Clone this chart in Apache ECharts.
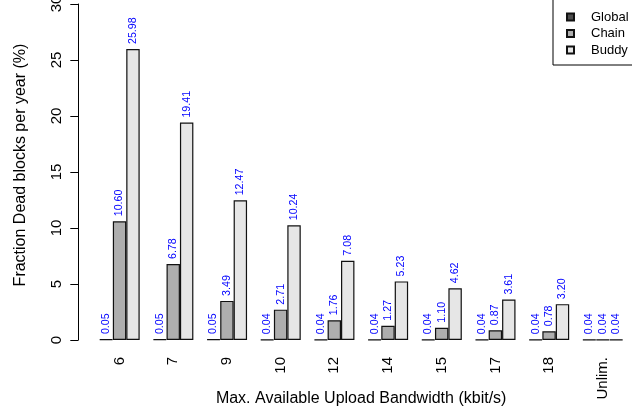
<!DOCTYPE html>
<html>
<head>
<meta charset="utf-8">
<script src="https://cdn.jsdelivr.net/npm/echarts@6/dist/echarts.min.js"></script>
<style>
  html, body { margin: 0; padding: 0; background: #fff; }
  #chart { width: 632px; height: 414px; }
</style>
</head>
<body>
<div id="chart"></div>
<script>
// bandwidth groups
const categories = ["6", "7", "9", "10", "12", "14", "15", "17", "18", "Unlim."];

// fraction of dead blocks per year (%)
const globalVals = [0.05, 0.05, 0.05, 0.04, 0.04, 0.04, 0.04, 0.04, 0.04, 0.04];
const chainVals  = [10.60, 6.78, 3.49, 2.71, 1.76, 1.27, 1.10, 0.87, 0.78, 0.04];
const buddyVals  = [25.98, 19.41, 12.47, 10.24, 7.08, 5.23, 4.62, 3.61, 3.20, 0.04];

const yTicks = [0, 5, 10, 15, 20, 25, 30];

const font = "Liberation Sans, Arial, sans-serif";

const valueLabel = {
    show: true,
    position: "top",
    rotate: 90,
    align: "left",
    verticalAlign: "middle",
    distance: 5,
    color: "#0000ff",
    fontSize: 10.7,
    fontFamily: font,
    formatter: p => p.value.toFixed(2)
};

function bar(name, data, fill) {
    return {
        name: name,
        type: "bar",
        data: data,
        barGap: "0%",
        barCategoryGap: "25%",
        itemStyle: { color: fill, borderColor: "#111", borderWidth: 1.2 },
        label: valueLabel,
        emphasis: { disabled: true }
    };
}

const chart = echarts.init(document.getElementById("chart"), null, { renderer: "canvas" });

chart.setOption({
    animation: false,
    textStyle: { fontFamily: font },
    grid: { left: 92.7, right: 2.4, top: 4, bottom: 74, outerBoundsMode: "none" },
    legend: {
        orient: "vertical",
        left: 553,
        top: -4,
        padding: [14.5, 6, 8.5, 13],
        itemWidth: 7,
        itemHeight: 7,
        itemGap: 3.5,
        borderColor: "#000",
        borderWidth: 1,
        icon: "rect",
        textStyle: { fontSize: 13, color: "#000", lineHeight: 13, padding: [0, 0, 0, 12] },
        data: ["Global", "Chain", "Buddy"]
    },
    xAxis: {
        type: "category",
        data: categories,
        name: "Max. Available Upload Bandwidth (kbit/s)",
        nameLocation: "middle",
        nameGap: 51,
        nameMoveOverlap: false,
        nameTextStyle: { fontSize: 16, color: "#000" },
        axisLine: { show: false },
        axisTick: { show: false },
        axisLabel: { rotate: 90, margin: 17, fontSize: 15, color: "#000" }
    },
    yAxis: {
        type: "value",
        min: yTicks[0],
        max: yTicks[yTicks.length - 1],
        interval: 5,
        offset: 14.4,
        name: "Fraction Dead blocks per year (%)",
        nameLocation: "middle",
        nameGap: 50,
        nameMoveOverlap: false,
        nameTextStyle: { fontSize: 16, color: "#000", padding: [0, 0, 0, 14] },
        axisLine: { show: true, lineStyle: { color: "#000" } },
        axisTick: { show: true, length: 8, lineStyle: { color: "#000" } },
        axisLabel: { rotate: 90, margin: 14, fontSize: 15, color: "#000" },
        splitLine: { show: false }
    },
    series: [
        bar("Global", globalVals, "#4d4d4d"),
        bar("Chain", chainVals, "#aeaeae"),
        bar("Buddy", buddyVals, "#e6e6e6")
    ]
});
</script>
</body>
</html>
